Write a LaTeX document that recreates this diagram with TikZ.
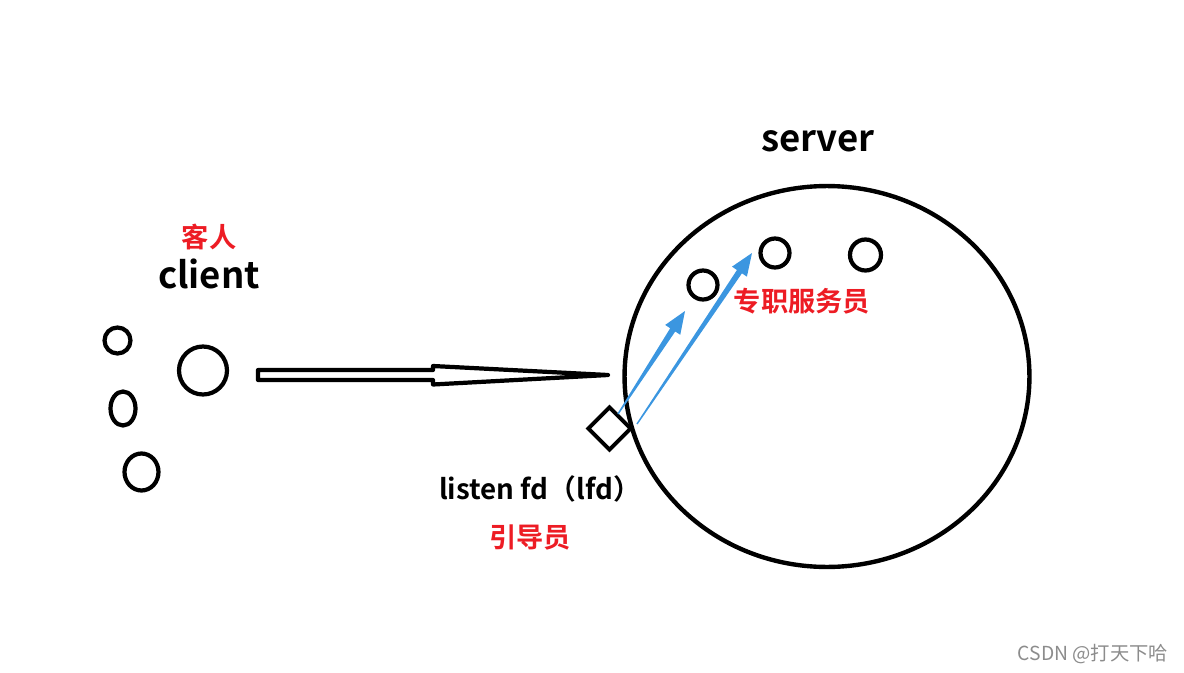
\documentclass[tikz,border=0pt]{standalone}
\usepackage{fontspec}
\setmainfont{Noto Sans CJK SC}[BoldFont={Noto Sans CJK SC Bold}]
\usepackage{xcolor}
\usetikzlibrary{shapes.geometric,calc}
\definecolor{paintred}{RGB}{237,28,36}
\definecolor{paintblue}{RGB}{59,150,224}
\definecolor{markgray}{RGB}{140,140,140}

\begin{document}
\begin{tikzpicture}[
  x=0.02cm, y=-0.02cm,
  ring/.style={circle, draw, line width=2.4pt, inner sep=0pt},
  oval/.style={ellipse, draw, line width=2.4pt, inner sep=0pt},
  bigtxt/.style={font=\fontsize{20.8}{24}\selectfont\bfseries},
  midtxt/.style={font=\fontsize{15.8}{18}\selectfont\bfseries},
  redtxt/.style={font=\fontsize{15.5}{18}\selectfont\bfseries, text=paintred}
]
  \useasboundingbox (0,0) rectangle (1184,673);

  % server side
  \node[oval, line width=2.5pt, minimum width=8.1cm, minimum height=7.62cm] (server) at (827,376.5) {};
  \node[bigtxt] (server-lbl) at (818,141) {server};
  \node[ring, minimum size=0.58cm] (w1) at (703,285) {};
  \node[ring, minimum size=0.58cm] (w2) at (775,253) {};
  \node[ring, minimum size=0.62cm] (w3) at (865.5,255) {};
  \node[redtxt] (staff) at (802,301) {专职服务员};

  % client side
  \node[redtxt] (guest) at (209,237) {客人};
  \node[bigtxt] (client-lbl) at (209,274) {client};
  \node[ring, minimum size=0.52cm] (c1) at (117.5,340.5) {};
  \node[ring, minimum size=0.96cm] (c0) at (203,370.5) {};
  \node[oval, minimum width=0.5cm, minimum height=0.68cm] (c2) at (123,408.5) {};
  \node[oval, minimum width=0.68cm, minimum height=0.74cm] (c3) at (141.5,472) {};

  % hollow arrow towards the listen fd
  \coordinate (tail) at (258,375);
  \coordinate (tip) at (608,375);
  \draw[line width=2.4pt, line join=round]
    (tail) ++(0,-5) -- ++(175,0) -- ++(0,-4) -- (tip)
    -- ($(tail)+(175,9.5)$) -- ++(0,-4.5) -- ($(tail)+(0,5)$) -- cycle;

  \node[diamond, draw, line width=2.2pt, inner sep=0pt, minimum size=0.88cm] (lfd) at (609.5,428.5) {};
  \node[midtxt] (lfd-lbl) at (540,489) {listen fd（lfd）};
  \node[redtxt] (guide) at (530,537) {引导员};

  % tapered blue arrows
  \coordinate (s1) at (618,414);
  \coordinate (t1) at (685,311);
  \coordinate (s2) at (637,424);
  \coordinate (t2) at (752,253);
  \foreach \s/\t in {s1/t1, s2/t2} {
    \coordinate (hb) at ($(\t)!0.45cm!(\s)$);
    \fill[paintblue] ($(\s)!0.014cm!90:(\t)$) -- ($(hb)!0.06cm!90:(\t)$)
      -- ($(hb)!0.18cm!90:(\t)$) -- (\t) -- ($(hb)!0.18cm!-90:(\t)$)
      -- ($(hb)!0.06cm!-90:(\t)$) -- ($(\s)!0.014cm!-90:(\t)$) -- cycle;
  }

  \node[font=\fontsize{11}{12}\selectfont, text=markgray] (mark) at (1093,654) {CSDN @打天下哈};
\end{tikzpicture}
\end{document}
